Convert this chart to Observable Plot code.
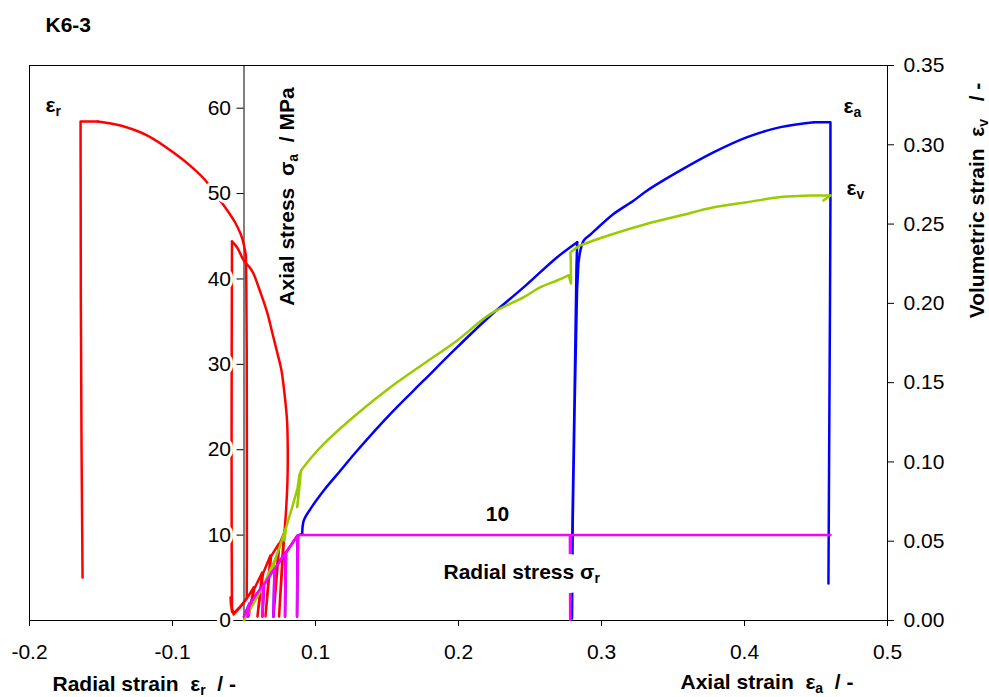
<!DOCTYPE html>
<html>
<head>
<meta charset="utf-8">
<script src="https://cdn.jsdelivr.net/npm/d3@7"></script>
<script src="https://cdn.jsdelivr.net/npm/@observablehq/plot@0.6"></script>
<style>
  body { margin: 0; background: #fff; }
</style>
</head>
<body>
<div id="chart"></div>
<script>
// ---------------- DATA ----------------
// Radial strain εr (red) vs axial stress σa [MPa]
const radialStrain = [-0.0573,-0.0524,-0.0476,-0.0430,-0.0469,-0.0427,-0.0373,-0.0406,-0.0367,-0.0315,-0.0350,-0.0311,-0.0257,-0.0294,-0.0253,-0.0222,-0.0255,-0.0218,
  -0.0206,-0.0196,-0.0194,-0.0199,-0.0217,-0.0238,-0.0266,-0.0301,-0.0336,-0.0385,-0.0434,-0.0455,-0.0501,-0.0548,-0.0584,
  -0.0586,-0.0587,-0.0586,-0.0584,
  -0.0594,-0.0591,
  -0.0573,-0.0524,-0.0481,-0.0480,-0.0480,-0.0481,-0.0484,-0.0487,-0.0503,-0.0524,-0.0566,-0.0636,-0.0706,-0.0769,-0.0851,-0.0993,-0.1175,-0.1364,-0.1524,-0.1643,
  -0.1641,-0.1636,-0.1629];
const radialStress = [0.70,1.64,2.69,3.92,0.47,3.75,5.62,0.47,5.50,7.61,0.47,7.50,8.98,0.47,8.90,10.15,0.47,10.07,
  12.88,16.40,19.91,23.42,26.59,29.28,31.27,33.61,35.96,38.42,40.64,41.23,42.16,43.68,44.39,
  31.62,19.91,8.20,0.94,
  2.69,1.76,
  0.82,1.64,2.58,7.03,19.91,31.62,39.82,42.75,44.16,45.29,46.73,48.49,50.01,51.53,52.90,54.81,56.80,57.98,58.45,58.45,
  37.48,19.91,5.04];

// Hydrostatic loading cycles (σa = σr), axial strain εa vs stress
const hydroAxialStrain = [0.0500,0.0538,0.0524,0.0542,0.0636,0.0629,0.0640,0.0713,0.0706,0.0717,0.0790,0.0787,0.0794,0.0874,0.0871,0.0878];
const hydroStress      = [0.47,1.99,0.47,1.99,4.22,0.47,4.22,6.09,0.47,6.09,7.96,0.47,7.96,9.96,0.47,9.96];

// Axial strain εa (blue) vs axial stress σa — deviatoric part
const axialStrain = [0.0907,0.0918,0.0965,0.1058,0.1175,0.1292,0.1524,0.1757,0.1991,0.2224,0.2457,0.2690,0.2830,
  0.2825,0.2811,0.2797,0.2792,0.2790,
  0.2794,0.2799,0.2813,0.2829,0.2839,0.2848,0.2876,0.2923,0.3086,0.3226,0.3320,0.3552,0.3786,0.4019,0.4252,0.4485,0.4601,
  0.4601,0.4598,0.4592,0.4587];
const axialStress = [10.15,11.71,13.08,15.23,17.57,19.91,24.21,28.11,32.01,35.72,39.04,42.55,44.31,
  41.39,25.77,11.71,4.69,0.23,
  0.23,11.71,25.77,38.65,41.93,42.99,44.51,45.21,47.63,49.19,50.36,52.71,54.85,56.61,57.78,58.36,58.36,
  49.19,37.48,19.91,4.33];

// Radial stress σr (magenta) vs axial strain — after the hydrostatic stage
const radialStressStrain = [0.0895,0.1500,0.2000,0.2500,0.2779,0.2781,0.2786,0.3000,0.3500,0.4000,0.4601];
const radialStressValue  = [10.0,10.0,10.0,10.0,10.0,0.05,10.0,10.0,10.0,10.0,10.0];

// Volumetric strain εv (green, right axis) vs axial strain
const volAxialStrain = [0.0500,0.0538,0.0528,0.0542,0.0587,0.0636,0.0626,0.0640,0.0678,0.0713,0.0703,0.0717,0.0755,0.0790,0.0783,0.0794,0.0837,0.0874,0.0888,0.0895,0.0872,0.0878,0.0899,
  0.0965,0.1058,0.1292,0.1524,0.1757,0.1991,0.2224,0.2457,0.2573,0.2690,0.2771,0.2787,0.2785,0.2783,0.2830,0.2853,0.3086,0.3320,0.3552,0.3786,0.4019,0.4252,0.4485,0.4601,0.4552];
const volStrain = [0.0000,0.0063,0.0038,0.0069,0.0139,0.0221,0.0177,0.0227,0.0309,0.0378,0.0315,0.0385,0.0479,0.0580,0.0505,0.0586,0.0715,0.0832,0.0921,0.0935,0.0715,0.0757,0.0946,
  0.1022,0.1114,0.1304,0.1471,0.1619,0.1766,0.1934,0.2039,0.2102,0.2144,0.2176,0.2125,0.2270,0.2323,0.2354,0.2365,0.2439,0.2502,0.2554,0.2606,0.2638,0.2670,0.2680,0.2680,0.2649];

// Tick values / labels
const xTickPos    = [-0.2,-0.1,0,0.1,0.2,0.3,0.4];
const xTickLabels = ["-0.2","-0.1","0.1","0.2","0.3","0.4","0.5"];
const stressTicks = [0,10,20,30,40,50,60];
const volTicks    = [0,0.05,0.10,0.15,0.20,0.25,0.30,0.35];

// ---------------- SCALE HELPERS ----------------
// The shared x axis: radial strain reads directly (-0.2, -0.1 …), the axial strain
// labels 0.1 … 0.5 sit one step further, so axial strain is shifted by 0.1.
const AXIAL_OFFSET = 0.1;
const LEFT_AXIS_X = -0.05;          // position of the axial-stress axis line
const K = 65 / 0.35;                // volumetric strain (right axis) -> stress units

const rowsRadial = radialStrain.map((e, i) => ({x: e, y: radialStress[i]}));
const rowsHydro  = hydroAxialStrain.map((e, i) => ({x: e - AXIAL_OFFSET, y: hydroStress[i]}));
const rowsAxial  = rowsHydro.concat(axialStrain.map((e, i) => ({x: e - AXIAL_OFFSET, y: axialStress[i]})));
const rowsSigR   = rowsHydro.concat(radialStressStrain.map((e, i) => ({x: e - AXIAL_OFFSET, y: radialStressValue[i]})));
const rowsVol    = volAxialStrain.map((e, i) => ({x: e - AXIAL_OFFSET, y: volStrain[i] * K}));

// split each series into sharp (linear) cycle parts and smooth (spline) loading arcs
const pieces = (rows, cuts) => cuts.map(([a, b, smooth]) => ({rows: rows.slice(a, b), smooth}));
const redPieces   = pieces(rowsRadial, [[0, 18, false], [17, 33, true], [32, 47, false], [46, 58, true], [57, undefined, false]]);
const bluePieces  = pieces(rowsAxial,  [[0, 17, false], [16, 29, true], [28, 40, false], [39, 50, true], [49, undefined, false]]);
const greenPieces = pieces(rowsVol,    [[0, 23, false], [22, 34, true], [33, 38, false], [37, 47, true], [46, undefined, false]]);

const FONT = "'Liberation Sans', Arial, Helvetica, sans-serif";
const LW = 2.5;
const bold = {fontWeight: "bold", fill: "black"};
const seriesMarks = (ps, color) => ps.map(p => Plot.line(p.rows, {
  x: "x", y: "y", stroke: color, strokeWidth: LW, strokeLinejoin: "round", strokeLinecap: "round",
  curve: p.smooth ? "catmull-rom" : "linear"
}));

const plot = Plot.plot({
  width: 989,
  height: 697,
  marginLeft: 29,
  marginRight: 102,
  marginTop: 65,
  marginBottom: 77,
  x: {domain: [-0.2, 0.4]},
  y: {domain: [0, 65]},
  style: {fontFamily: FONT, fontSize: "21px", background: "white", color: "black", overflow: "visible"},
  marks: [
    Plot.frame({stroke: "black", strokeWidth: 1}),
    Plot.axisX({
      ticks: xTickPos,
      tickFormat: d => xTickLabels[xTickPos.findIndex(p => Math.abs(p - d) < 1e-9)],
      tickSize: 6, tickPadding: 18, label: null
    }),
    Plot.axisY({
      anchor: "right",
      ticks: volTicks.map(v => v * K),
      tickFormat: d => (d / K).toFixed(2),
      tickSize: 6, tickPadding: 10, label: null
    }),
    Plot.ruleX([LEFT_AXIS_X], {stroke: "black", strokeWidth: 1}),
    Plot.ruleY(stressTicks, {y: d => d, x1: LEFT_AXIS_X, x2: LEFT_AXIS_X, insetLeft: -7, stroke: "black", strokeWidth: 1}),

    ...seriesMarks(redPieces, "#ff0000"),     // radial strain
    ...seriesMarks(bluePieces, "#0000ff"),    // axial strain
    ...seriesMarks(greenPieces, "#99cc00"),   // volumetric strain (right axis)
    Plot.line(rowsSigR, {x: "x", y: "y", stroke: "#ff00ff", strokeWidth: LW, strokeLinejoin: "round", strokeLinecap: "round"}),

    // left (axial stress) tick labels, opaque like the original
    Plot.text(stressTicks, {x: LEFT_AXIS_X, y: d => d, text: d => String(d), textAnchor: "end", dx: -13,
      fill: "black", stroke: "white", strokeWidth: 6}),

    // in-plot annotations
    Plot.text(["ε_{r}"], {x: -0.1888, y: 59.5, text: d => d, textAnchor: "start", lineAnchor: "bottom", ...bold}),
    Plot.text(["ε_{a}"], {x: 0.4692 - AXIAL_OFFSET, y: 59.4, text: d => d, textAnchor: "start", lineAnchor: "bottom", ...bold}),
    Plot.text(["ε_{v}"], {x: 0.4713 - AXIAL_OFFSET, y: 49.8, text: d => d, textAnchor: "start", lineAnchor: "bottom", ...bold}),
    Plot.text(["10"], {x: 0.2273 - AXIAL_OFFSET, y: 11.7, text: d => d, textAnchor: "middle", lineAnchor: "bottom", ...bold}),
    // opaque box behind the radial-stress label (white halo), then the label itself
    Plot.text(["Radial stress σ_{r}"], {x: 0.1895 - AXIAL_OFFSET, y: 4.9, text: d => d, textAnchor: "start", lineAnchor: "bottom",
      fontWeight: "bold", fill: "white", stroke: "white", strokeWidth: 28, strokeLinejoin: "round"}),
    Plot.text(["Radial stress σ_{r}"], {x: 0.1895 - AXIAL_OFFSET, y: 4.9, text: d => d, textAnchor: "start", lineAnchor: "bottom", ...bold}),

    // titles
    Plot.text(["K6-3"], {frameAnchor: "top-left", dx: 16, dy: -34, text: d => d, textAnchor: "start", lineAnchor: "bottom", ...bold}),
    Plot.text(["Radial strain\u00a0\u00a0ε_{r}\u00a0\u00a0/ -"], {frameAnchor: "bottom-left", dx: 23, dy: 70, text: d => d,
      textAnchor: "start", lineAnchor: "bottom", ...bold}),
    Plot.text(["Axial strain\u00a0\u00a0ε_{a}\u00a0\u00a0/ -"], {frameAnchor: "bottom-left", dx: 651, dy: 68, text: d => d,
      textAnchor: "start", lineAnchor: "bottom", ...bold}),
    Plot.text(["Axial stress\u00a0\u00a0σ_{a}\u00a0\u00a0/ MPa"], {frameAnchor: "top-left", dx: 264, dy: 131, rotate: -90, text: d => d,
      textAnchor: "middle", lineAnchor: "bottom", ...bold}),
    Plot.text(["Volumetric strain\u00a0\u00a0ε_{v}\u00a0\u00a0\u00a0/ -"], {frameAnchor: "top-right", dx: 96, dy: 135, rotate: -90, text: d => d,
      textAnchor: "middle", lineAnchor: "bottom", ...bold})
  ]
});

// subscripts: turn "_{x}" into shifted tspans
const SVGNS = "http://www.w3.org/2000/svg";
d3.select(plot).selectAll("text").each(function () {
  const t = this.textContent;
  if (!t.includes("_{")) return;
  const parts = t.split(/(_\{[^}]*\})/);
  this.textContent = "";
  let shifted = false;
  for (const p of parts) {
    if (!p) continue;
    const m = p.match(/^_\{([^}]*)\}$/);
    const ts = document.createElementNS(SVGNS, "tspan");
    if (m) {
      ts.textContent = m[1];
      ts.setAttribute("font-size", "14");
      ts.setAttribute("dy", "4");
      shifted = true;
    } else {
      ts.textContent = p;
      if (shifted) { ts.setAttribute("dy", "-4"); shifted = false; }
    }
    this.appendChild(ts);
  }
});

document.getElementById("chart").appendChild(plot);
</script>
</body>
</html>
